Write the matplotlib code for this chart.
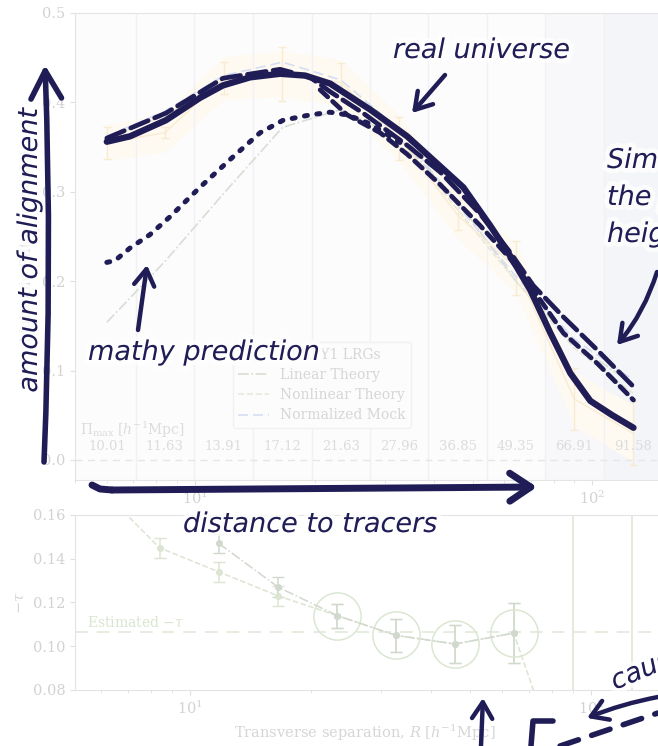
import numpy as np
import matplotlib
matplotlib.use('Agg')
import matplotlib.pyplot as plt
from matplotlib import patheffects as pe

# separation bins (h^-1 Mpc) and the matching line-of-sight cut
r_bins = [6.0, 8.4, 11.8, 16.6, 23.3, 32.6, 45.8, 64.2, 90.1, 126.4]
pi_max = ['10.01', '11.63', '13.91', '17.12', '21.63', '27.96', '36.85', '49.35', '66.91', '91.58']

# multipole ratio, upper panel
lrg_ratio = [0.355, 0.366, 0.427, 0.432, 0.422, 0.360, 0.274, 0.215, 0.068, 0.030]
lrg_err = [0.018, 0.006, 0.018, 0.030, 0.022, 0.024, 0.017, 0.030, 0.035, 0.036]
lrg_band = [0.020, 0.022, 0.024, 0.026, 0.026, 0.026, 0.026, 0.028, 0.030, 0.032]
linear_theory = [0.154, 0.222, 0.298, 0.372, 0.392, 0.360, 0.290, 0.200, 0.130, 0.085]
nonlinear_theory = [0.360, 0.385, 0.425, 0.435, 0.418, 0.360, 0.280, 0.200, 0.125, 0.075]
norm_mock = [0.362, 0.390, 0.430, 0.445, 0.425, 0.370, 0.285, 0.205, 0.135, 0.090]

# pen strokes traced over the curves
pen_solid_r = [6.0, 6.86, 8.45, 10.29, 11.76, 13.76, 16.37, 18.93, 21.88, 27.59, 34.2,
               47.33, 55.35, 62.17, 69.82, 78.4, 88.03, 98.85, 112.3, 126.9]
pen_solid_v = [0.356, 0.362, 0.380, 0.405, 0.419, 0.428, 0.432, 0.430, 0.421, 0.392, 0.362,
               0.305, 0.262, 0.228, 0.190, 0.142, 0.097, 0.066, 0.050, 0.036]
pen_dash_r = [6.0, 8.45, 11.76, 16.37, 19.49, 21.88, 26.49, 34.2, 41.41, 52.24, 62.17,
              71.05, 84.53, 102.9, 126.9]
pen_dash_v = [0.360, 0.388, 0.427, 0.437, 0.428, 0.412, 0.388, 0.352, 0.322, 0.275, 0.232,
              0.195, 0.160, 0.123, 0.082]
pen_dash2_r = [20.65, 24.15, 29.24, 34.2, 41.41, 52.24, 62.17, 71.05, 84.53, 102.9, 126.9]
pen_dash2_v = [0.414, 0.386, 0.366, 0.342, 0.308, 0.262, 0.225, 0.190, 0.142, 0.108, 0.067]
pen_dot_r = [6.0, 6.29, 6.86, 7.70, 8.65, 10.29, 12.46, 14.58, 16.66, 19.49, 21.88, 24.15,
             27.59, 34.2]
pen_dot_v = [0.221, 0.223, 0.237, 0.252, 0.272, 0.305, 0.339, 0.366, 0.380, 0.386, 0.389,
             0.386, 0.376, 0.350]

# -tau, lower panel
tau_a = [0.172, 0.145, 0.134, 0.123, 0.114, 0.105, 0.101, 0.106, 0.028, -0.020]
tau_a_err = [0.005, 0.0045, 0.0045, 0.0045, 0.0055, 0.0075, 0.0087, 0.0137, 0.3, 0.3]
tau_b = [np.nan, np.nan, 0.147, 0.127, 0.114, 0.105, 0.101, 0.106, np.nan, np.nan]
tau_b_err = [0, 0, 0.0045, 0.0045, 0.0055, 0.0075, 0.0087, 0.0137, 0, 0]
tau_est = 0.1065

plt.rcParams['font.family'] = 'DejaVu Serif'
plt.rcParams['mathtext.fontset'] = 'dejavuserif'

navy = '#201d56'

fig = plt.figure(figsize=(6.58, 7.46), dpi=100)

# ---- upper panel
ax = fig.add_axes([0.114, 0.3566, 0.936, 0.626])
ax.set_xscale('log')
ax.set_xlim(4.99, 177)
ax.set_ylim(-0.0224, 0.5)
ax.set_facecolor('#fcfcfd')
ax.spines['right'].set_visible(False)
for s in ['top', 'left', 'bottom']:
    ax.spines[s].set_color('#e4e4e4')

edges = [np.sqrt(a * b) for a, b in zip(r_bins[:-1], r_bins[1:])]
ax.axvspan(edges[-2], edges[-1], color='#f8f8fb', lw=0)
ax.axvspan(edges[-1], 177, color='#f4f5f9', lw=0)
for e in edges:
    ax.axvline(e, color='#f1f1f5', lw=1)

ax.axhline(0, color='#e6e6e6', ls=(0, (5, 4)), lw=1)
lo = [v - b for v, b in zip(lrg_ratio, lrg_band)]
hi = [v + b for v, b in zip(lrg_ratio, lrg_band)]
ax.fill_between(r_bins, lo, hi, color='#fefaf1', lw=0)
h_data = ax.errorbar(r_bins, lrg_ratio, yerr=lrg_err, color='#f9ead2', capsize=3, lw=1,
                     label='DESI Y1 LRGs')
h_lin, = ax.plot(r_bins, linear_theory, color='#d8ddd5', ls='-.', lw=1.2, label='Linear Theory')
h_nl, = ax.plot(r_bins, nonlinear_theory, color='#e8e8d8', ls='--', lw=1.2,
                label='Nonlinear Theory')
h_mock, = ax.plot(r_bins, norm_mock, color='#d6def4', ls=(0, (6, 3)), lw=1.2,
                  label='Normalized Mock')

for r, p in zip(r_bins, pi_max):
    ax.text(r, 0.0145, p, ha='center', va='center', fontsize=9.5, color='#dcdcdc')
ax.text(5.13, 0.034, r'$\Pi_{\rm max}$ [$h^{-1}$Mpc]', ha='left', va='center',
        fontsize=10, color='#dcdcdc')

ax.legend(handles=[h_data, h_lin, h_nl, h_mock], loc='upper left',
          bbox_to_anchor=(0.245, 0.31), fontsize=10,
          labelcolor='#d6d6d6', frameon=True, edgecolor='#f1f1f1',
          facecolor='#fcfcfd', framealpha=1, labelspacing=0.45, handlelength=2.2)

ax.set_yticks([0.0, 0.1, 0.2, 0.3, 0.4, 0.5])
ax.set_yticklabels(['0.0', '0.1', '0.2', '0.3', '0.4', '0.5'])
ax.tick_params(which='both', colors='#e0e0e0', labelcolor='#d2d2d2', labelsize=10.5)
ax.set_ylabel(r'Multipole Ratio, $\langle\cos(2\Phi)\rangle$', color='#dddddd', fontsize=10.5)

# pen strokes
ax.plot(pen_dot_r, pen_dot_v, color=navy, lw=3.6, ls=(0, (0.6, 1.9)),
        dash_capstyle='round', zorder=10)
ax.plot(pen_dash2_r, pen_dash2_v, color=navy, lw=3.4, ls=(0, (2.2, 1.4)),
        dash_capstyle='round', zorder=10)
ax.plot(pen_dash_r, pen_dash_v, color=navy, lw=3.4, ls=(0, (4.0, 1.5)),
        dash_capstyle='round', zorder=10)
ax.plot(pen_solid_r, pen_solid_v, color=navy, lw=4.6, solid_capstyle='round',
        solid_joinstyle='round', zorder=11)

# ---- lower panel
ax2 = fig.add_axes([0.114, 0.0751, 0.936, 0.2346])
ax2.set_xscale('log')
ax2.set_xlim(5.17, 177.6)
ax2.set_ylim(0.08, 0.16)
ax2.spines['right'].set_visible(False)
for s in ['top', 'left', 'bottom']:
    ax2.spines[s].set_color('#e4e4e4')

ax2.axhline(tau_est, color='#e4ecdd', ls=(0, (7, 5)), lw=1.3)
ax2.text(5.53, 0.111, r'Estimated $-\tau$', color='#d9e6cf', fontsize=10, va='center')
ax2.errorbar(r_bins, tau_a, yerr=tau_a_err, color='#dce4d2', ls='--', lw=1.1,
             marker='o', ms=4, capsize=4)
ax2.errorbar(r_bins, tau_b, yerr=tau_b_err, color='#d1d8cd', ls='-.', lw=1.1,
             marker='o', ms=4, capsize=4)
ax2.plot(r_bins[4:8], tau_a[4:8], 'o', mfc='none', mec='#dbe7d2', ms=34, mew=1.1)

ax2.set_yticks([0.08, 0.10, 0.12, 0.14, 0.16])
ax2.set_yticklabels(['0.08', '0.10', '0.12', '0.14', '0.16'])
ax2.tick_params(which='both', colors='#e0e0e0', labelcolor='#d2d2d2', labelsize=10.5)
ax2.set_ylabel(r'$-\tau$', color='#d6d6d6', fontsize=10.5)
ax2.set_xlabel(r'Transverse separation, $R$ [$h^{-1}$Mpc]', color='#d6d6d6',
               fontsize=10.5, x=0.47)

# ---- hand annotations on top
ov = fig.add_axes([0, 0, 1, 1], zorder=20)
ov.set_xlim(0, 658)
ov.set_ylim(746, 0)
ov.axis('off')
ov.patch.set_alpha(0)

halo = [pe.withStroke(linewidth=7, foreground='white', alpha=0.75)]
hand = dict(color=navy, fontsize=19.5, family='DejaVu Sans', style='italic',
            path_effects=halo)


def arrow(tail, head, lw=3.2, scale=26, hl=0.45, hw=0.28, rad=0.0):
    ov.annotate('', xy=head, xytext=tail,
                arrowprops=dict(arrowstyle=f'->,head_length={hl},head_width={hw}',
                                lw=lw, color=navy, mutation_scale=scale,
                                shrinkA=0, shrinkB=0, capstyle='round',
                                connectionstyle=f'arc3,rad={rad}'))


ov.text(393, 58, 'real universe', ha='left', va='baseline', **hand)
arrow((445, 75), (412, 113))

ov.text(607, 168, 'Simulations match', ha='left', va='baseline', **hand)
ov.text(607, 205, 'the peak', ha='left', va='baseline', **hand)
ov.text(607, 242, 'height', ha='left', va='baseline', **hand)
arrow((657, 272), (617, 345), rad=-0.1)

ov.text(88, 360, 'mathy prediction', ha='left', va='baseline', **hand)
arrow((138, 330), (147, 265))

ov.text(37, 250, 'amount of alignment', ha='center', va='baseline', rotation=90,
        rotation_mode='anchor', **hand)
arrow((44, 462), (45, 65), lw=4, scale=50, hl=0.4, hw=0.22, rad=0.02)

ov.plot([92, 100, 112], [485, 489, 490], color=navy, lw=5, solid_capstyle='round')
arrow((112, 490), (537, 487), lw=5, scale=36, hl=0.42, hw=0.28)
ov.text(183, 532, 'distance to tracers', ha='left', va='baseline', **hand)

arrow((481, 746), (483, 698))
ov.text(615, 690, 'caused by', ha='left', va='baseline', rotation=23,
        rotation_mode='anchor', **hand)
arrow((658, 697), (587, 718), rad=0.05)

ov.plot([553, 533, 531], [721, 721, 746], color=navy, lw=4, solid_capstyle='round')
ov.plot([560, 658], [746, 713], color=navy, lw=4, ls=(0, (3.5, 2.5)),
        dash_capstyle='round')

fig.savefig('out.png', dpi=100)
